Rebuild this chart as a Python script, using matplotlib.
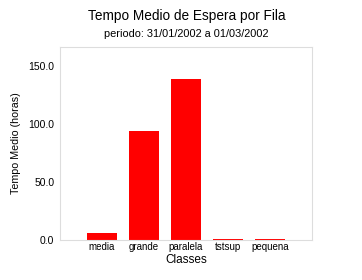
import matplotlib
matplotlib.use("Agg")
import matplotlib.pyplot as plt

categories = ["media", "grande", "paralela", "tstsup", "pequena"]
values = [5.5, 93.6, 138.3, 0.1, 0.1]
yticks = [0.0, 50.0, 100.0, 150.0]

plt.rcParams['font.family'] = ['Liberation Sans', 'DejaVu Sans']

fig = plt.figure(figsize=(3.62, 2.80), dpi=100)
ax = fig.add_axes([60/362, 1-239.5/280, 252/362, (239.5-47)/280])
x = list(range(len(categories)))
ax.bar(x, values, width=0.7, color="#ff0000", linewidth=0)
ax.set_xlim(-1, 5)
ax.set_ylim(0, 166)
ax.set_yticks(yticks)
ax.set_yticklabels([f"{v:.1f}" for v in yticks], fontsize=7.5)
ax.set_xticks(x)
ax.set_xticklabels(categories, fontsize=7)
ax.tick_params(length=0, pad=4)
ax.tick_params(axis='x', pad=2)
for s in ax.spines.values():
    s.set_color("#dddddd")
    s.set_linewidth(0.8)
ax.set_xlabel("Classes", fontsize=8.5, labelpad=1)
ax.set_ylabel("Tempo Medio (horas)", fontsize=7.7, labelpad=5)
fig.text(0.515, 1-16/280, "Tempo Medio de Espera por Fila", ha="center", va="center", fontsize=9.8)
fig.text(0.515, 1-34/280, "periodo: 31/01/2002 a 01/03/2002", ha="center", va="center", fontsize=7.9)
fig.savefig("out.png", dpi=100)
